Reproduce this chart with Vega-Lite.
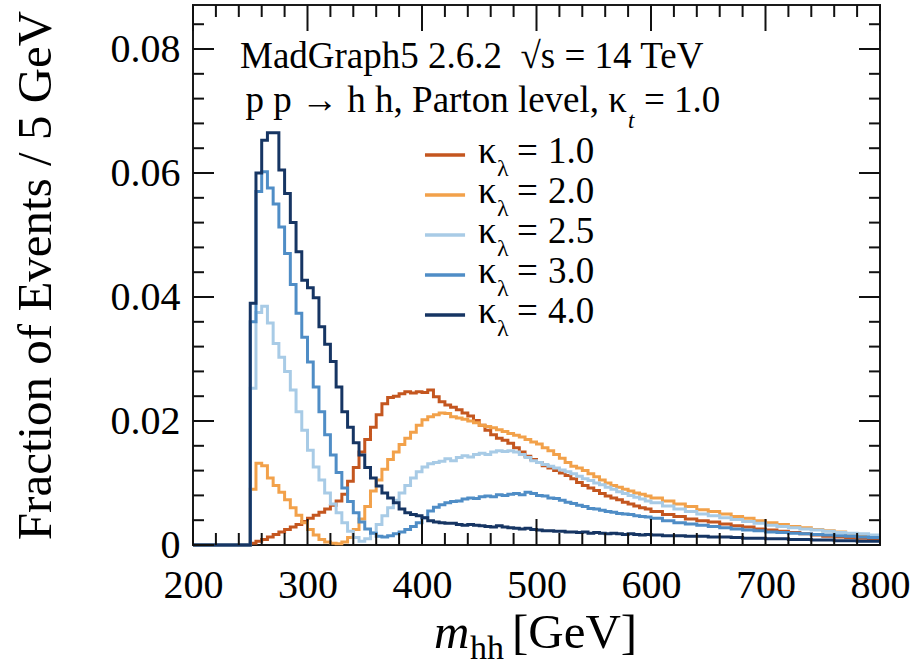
{
"$schema": "https://vega.github.io/schema/vega-lite/v6.json",
"width": 687, "height": 540,
"autosize": {"type": "none"},
"padding": {"left": 193, "top": 5, "right": 31, "bottom": 125},
"background": "white",
"config": {"view": {"stroke": "#1a1a1a", "strokeWidth": 2}, "font": "Liberation Serif"},
"data": {"values": [
{"m":200,"k":"1.0","f":0},{"m":250,"k":"1.0","f":0.0003},{"m":255,"k":"1.0","f":0.0006},{"m":260,"k":"1.0","f":0.0009},{"m":265,"k":"1.0","f":0.0013},{"m":270,"k":"1.0","f":0.0017},{"m":275,"k":"1.0","f":0.0021},{"m":280,"k":"1.0","f":0.0025},{"m":285,"k":"1.0","f":0.0029},{"m":290,"k":"1.0","f":0.0033},{"m":295,"k":"1.0","f":0.0038},{"m":300,"k":"1.0","f":0.0043},{"m":305,"k":"1.0","f":0.0048},{"m":310,"k":"1.0","f":0.0053},{"m":315,"k":"1.0","f":0.0058},{"m":320,"k":"1.0","f":0.0064},{"m":325,"k":"1.0","f":0.0071},{"m":330,"k":"1.0","f":0.0082},{"m":335,"k":"1.0","f":0.0103},{"m":340,"k":"1.0","f":0.0125},{"m":345,"k":"1.0","f":0.0150},{"m":350,"k":"1.0","f":0.0170},{"m":355,"k":"1.0","f":0.0190},{"m":360,"k":"1.0","f":0.0210},{"m":365,"k":"1.0","f":0.0228},{"m":370,"k":"1.0","f":0.0238},{"m":375,"k":"1.0","f":0.0240},{"m":380,"k":"1.0","f":0.0244},{"m":385,"k":"1.0","f":0.0247},{"m":390,"k":"1.0","f":0.0245},{"m":395,"k":"1.0","f":0.0247},{"m":400,"k":"1.0","f":0.0246},{"m":405,"k":"1.0","f":0.0250},{"m":410,"k":"1.0","f":0.0239},{"m":415,"k":"1.0","f":0.0231},{"m":420,"k":"1.0","f":0.0226},{"m":425,"k":"1.0","f":0.0222},{"m":430,"k":"1.0","f":0.0218},{"m":435,"k":"1.0","f":0.0213},{"m":440,"k":"1.0","f":0.0208},{"m":445,"k":"1.0","f":0.0201},{"m":450,"k":"1.0","f":0.0193},{"m":455,"k":"1.0","f":0.0185},{"m":460,"k":"1.0","f":0.0178},{"m":465,"k":"1.0","f":0.0172},{"m":470,"k":"1.0","f":0.0169},{"m":475,"k":"1.0","f":0.0164},{"m":480,"k":"1.0","f":0.0157},{"m":485,"k":"1.0","f":0.0150},{"m":490,"k":"1.0","f":0.0143},{"m":495,"k":"1.0","f":0.0138},{"m":500,"k":"1.0","f":0.0133},{"m":505,"k":"1.0","f":0.0128},{"m":510,"k":"1.0","f":0.0124},{"m":515,"k":"1.0","f":0.0120},{"m":520,"k":"1.0","f":0.0116},{"m":525,"k":"1.0","f":0.0112},{"m":530,"k":"1.0","f":0.0107},{"m":535,"k":"1.0","f":0.0101},{"m":540,"k":"1.0","f":0.0096},{"m":545,"k":"1.0","f":0.0092},{"m":550,"k":"1.0","f":0.0088},{"m":555,"k":"1.0","f":0.0083},{"m":560,"k":"1.0","f":0.0079},{"m":565,"k":"1.0","f":0.0076},{"m":570,"k":"1.0","f":0.0073},{"m":575,"k":"1.0","f":0.0069},{"m":580,"k":"1.0","f":0.0066},{"m":585,"k":"1.0","f":0.0063},{"m":590,"k":"1.0","f":0.0060},{"m":595,"k":"1.0","f":0.0058},{"m":600,"k":"1.0","f":0.0054},{"m":610,"k":"1.0","f":0.0049},{"m":620,"k":"1.0","f":0.0046},{"m":630,"k":"1.0","f":0.0042},{"m":640,"k":"1.0","f":0.0039},{"m":650,"k":"1.0","f":0.0037},{"m":660,"k":"1.0","f":0.0034},{"m":670,"k":"1.0","f":0.0031},{"m":680,"k":"1.0","f":0.0029},{"m":690,"k":"1.0","f":0.0026},{"m":700,"k":"1.0","f":0.0024},{"m":710,"k":"1.0","f":0.0022},{"m":720,"k":"1.0","f":0.0020},{"m":730,"k":"1.0","f":0.0018},{"m":740,"k":"1.0","f":0.0016},{"m":750,"k":"1.0","f":0.0014},{"m":760,"k":"1.0","f":0.0013},{"m":770,"k":"1.0","f":0.0012},{"m":780,"k":"1.0","f":0.0011},{"m":790,"k":"1.0","f":0.0010},{"m":800,"k":"1.0","f":0.0010},
{"m":200,"k":"2.0","f":0},{"m":250,"k":"2.0","f":0.0090},{"m":255,"k":"2.0","f":0.0132},{"m":260,"k":"2.0","f":0.0128},{"m":265,"k":"2.0","f":0.0108},{"m":270,"k":"2.0","f":0.0096},{"m":275,"k":"2.0","f":0.0085},{"m":280,"k":"2.0","f":0.0073},{"m":285,"k":"2.0","f":0.0060},{"m":290,"k":"2.0","f":0.0048},{"m":295,"k":"2.0","f":0.0036},{"m":300,"k":"2.0","f":0.0025},{"m":305,"k":"2.0","f":0.0016},{"m":310,"k":"2.0","f":0.0009},{"m":315,"k":"2.0","f":0.0005},{"m":320,"k":"2.0","f":0.0003},{"m":325,"k":"2.0","f":0.0002},{"m":330,"k":"2.0","f":0.0005},{"m":335,"k":"2.0","f":0.0012},{"m":340,"k":"2.0","f":0.0025},{"m":345,"k":"2.0","f":0.0042},{"m":350,"k":"2.0","f":0.0062},{"m":355,"k":"2.0","f":0.0087},{"m":360,"k":"2.0","f":0.0105},{"m":365,"k":"2.0","f":0.0122},{"m":370,"k":"2.0","f":0.0138},{"m":375,"k":"2.0","f":0.0150},{"m":380,"k":"2.0","f":0.0162},{"m":385,"k":"2.0","f":0.0172},{"m":390,"k":"2.0","f":0.0182},{"m":395,"k":"2.0","f":0.0193},{"m":400,"k":"2.0","f":0.0202},{"m":405,"k":"2.0","f":0.0207},{"m":410,"k":"2.0","f":0.0210},{"m":415,"k":"2.0","f":0.0213},{"m":420,"k":"2.0","f":0.0212},{"m":425,"k":"2.0","f":0.0207},{"m":430,"k":"2.0","f":0.0205},{"m":435,"k":"2.0","f":0.0203},{"m":440,"k":"2.0","f":0.0200},{"m":445,"k":"2.0","f":0.0197},{"m":450,"k":"2.0","f":0.0193},{"m":455,"k":"2.0","f":0.0191},{"m":460,"k":"2.0","f":0.0189},{"m":465,"k":"2.0","f":0.0186},{"m":470,"k":"2.0","f":0.0183},{"m":475,"k":"2.0","f":0.0180},{"m":480,"k":"2.0","f":0.0177},{"m":485,"k":"2.0","f":0.0174},{"m":490,"k":"2.0","f":0.0170},{"m":495,"k":"2.0","f":0.0166},{"m":500,"k":"2.0","f":0.0163},{"m":505,"k":"2.0","f":0.0157},{"m":510,"k":"2.0","f":0.0152},{"m":515,"k":"2.0","f":0.0146},{"m":520,"k":"2.0","f":0.0140},{"m":525,"k":"2.0","f":0.0133},{"m":530,"k":"2.0","f":0.0127},{"m":535,"k":"2.0","f":0.0124},{"m":540,"k":"2.0","f":0.0120},{"m":545,"k":"2.0","f":0.0115},{"m":550,"k":"2.0","f":0.0110},{"m":555,"k":"2.0","f":0.0105},{"m":560,"k":"2.0","f":0.0100},{"m":565,"k":"2.0","f":0.0096},{"m":570,"k":"2.0","f":0.0093},{"m":575,"k":"2.0","f":0.0090},{"m":580,"k":"2.0","f":0.0087},{"m":585,"k":"2.0","f":0.0084},{"m":590,"k":"2.0","f":0.0082},{"m":595,"k":"2.0","f":0.0079},{"m":600,"k":"2.0","f":0.0076},{"m":610,"k":"2.0","f":0.0071},{"m":620,"k":"2.0","f":0.0066},{"m":630,"k":"2.0","f":0.0062},{"m":640,"k":"2.0","f":0.0057},{"m":650,"k":"2.0","f":0.0054},{"m":660,"k":"2.0","f":0.0050},{"m":670,"k":"2.0","f":0.0046},{"m":680,"k":"2.0","f":0.0043},{"m":690,"k":"2.0","f":0.0039},{"m":700,"k":"2.0","f":0.0036},{"m":710,"k":"2.0","f":0.0033},{"m":720,"k":"2.0","f":0.0030},{"m":730,"k":"2.0","f":0.0028},{"m":740,"k":"2.0","f":0.0025},{"m":750,"k":"2.0","f":0.0023},{"m":760,"k":"2.0","f":0.0021},{"m":770,"k":"2.0","f":0.0018},{"m":780,"k":"2.0","f":0.0015},{"m":790,"k":"2.0","f":0.0012},{"m":800,"k":"2.0","f":0.0012},
{"m":200,"k":"2.5","f":0},{"m":250,"k":"2.5","f":0.0253},{"m":255,"k":"2.5","f":0.0375},{"m":260,"k":"2.5","f":0.0385},{"m":265,"k":"2.5","f":0.0358},{"m":270,"k":"2.5","f":0.0325},{"m":275,"k":"2.5","f":0.0303},{"m":280,"k":"2.5","f":0.0280},{"m":285,"k":"2.5","f":0.0250},{"m":290,"k":"2.5","f":0.0215},{"m":295,"k":"2.5","f":0.0185},{"m":300,"k":"2.5","f":0.0153},{"m":305,"k":"2.5","f":0.0126},{"m":310,"k":"2.5","f":0.0105},{"m":315,"k":"2.5","f":0.0084},{"m":320,"k":"2.5","f":0.0066},{"m":325,"k":"2.5","f":0.0052},{"m":330,"k":"2.5","f":0.0036},{"m":335,"k":"2.5","f":0.0022},{"m":340,"k":"2.5","f":0.0012},{"m":345,"k":"2.5","f":0.0006},{"m":350,"k":"2.5","f":0.0010},{"m":355,"k":"2.5","f":0.0020},{"m":360,"k":"2.5","f":0.0033},{"m":365,"k":"2.5","f":0.0047},{"m":370,"k":"2.5","f":0.0060},{"m":375,"k":"2.5","f":0.0072},{"m":380,"k":"2.5","f":0.0084},{"m":385,"k":"2.5","f":0.0096},{"m":390,"k":"2.5","f":0.0108},{"m":395,"k":"2.5","f":0.0118},{"m":400,"k":"2.5","f":0.0126},{"m":405,"k":"2.5","f":0.0131},{"m":410,"k":"2.5","f":0.0133},{"m":415,"k":"2.5","f":0.0135},{"m":420,"k":"2.5","f":0.0139},{"m":425,"k":"2.5","f":0.0136},{"m":430,"k":"2.5","f":0.0141},{"m":435,"k":"2.5","f":0.0144},{"m":440,"k":"2.5","f":0.0142},{"m":445,"k":"2.5","f":0.0146},{"m":450,"k":"2.5","f":0.0148},{"m":455,"k":"2.5","f":0.0146},{"m":460,"k":"2.5","f":0.0150},{"m":465,"k":"2.5","f":0.0152},{"m":470,"k":"2.5","f":0.0151},{"m":475,"k":"2.5","f":0.0152},{"m":480,"k":"2.5","f":0.0150},{"m":485,"k":"2.5","f":0.0146},{"m":490,"k":"2.5","f":0.0141},{"m":495,"k":"2.5","f":0.0136},{"m":500,"k":"2.5","f":0.0133},{"m":505,"k":"2.5","f":0.0130},{"m":510,"k":"2.5","f":0.0127},{"m":515,"k":"2.5","f":0.0124},{"m":520,"k":"2.5","f":0.0121},{"m":525,"k":"2.5","f":0.0118},{"m":530,"k":"2.5","f":0.0115},{"m":535,"k":"2.5","f":0.0111},{"m":540,"k":"2.5","f":0.0107},{"m":545,"k":"2.5","f":0.0104},{"m":550,"k":"2.5","f":0.0100},{"m":555,"k":"2.5","f":0.0097},{"m":560,"k":"2.5","f":0.0093},{"m":565,"k":"2.5","f":0.0090},{"m":570,"k":"2.5","f":0.0086},{"m":575,"k":"2.5","f":0.0083},{"m":580,"k":"2.5","f":0.0080},{"m":585,"k":"2.5","f":0.0077},{"m":590,"k":"2.5","f":0.0074},{"m":595,"k":"2.5","f":0.0071},{"m":600,"k":"2.5","f":0.0068},{"m":610,"k":"2.5","f":0.0063},{"m":620,"k":"2.5","f":0.0058},{"m":630,"k":"2.5","f":0.0054},{"m":640,"k":"2.5","f":0.0050},{"m":650,"k":"2.5","f":0.0047},{"m":660,"k":"2.5","f":0.0044},{"m":670,"k":"2.5","f":0.0041},{"m":680,"k":"2.5","f":0.0038},{"m":690,"k":"2.5","f":0.0035},{"m":700,"k":"2.5","f":0.0032},{"m":710,"k":"2.5","f":0.0030},{"m":720,"k":"2.5","f":0.0028},{"m":730,"k":"2.5","f":0.0026},{"m":740,"k":"2.5","f":0.0024},{"m":750,"k":"2.5","f":0.0022},{"m":760,"k":"2.5","f":0.0020},{"m":770,"k":"2.5","f":0.0019},{"m":780,"k":"2.5","f":0.0018},{"m":790,"k":"2.5","f":0.0016},{"m":800,"k":"2.5","f":0.0016},
{"m":200,"k":"3.0","f":0},{"m":250,"k":"3.0","f":0.0360},{"m":255,"k":"3.0","f":0.0570},{"m":260,"k":"3.0","f":0.0602},{"m":265,"k":"3.0","f":0.0576},{"m":270,"k":"3.0","f":0.0550},{"m":275,"k":"3.0","f":0.0513},{"m":280,"k":"3.0","f":0.0470},{"m":285,"k":"3.0","f":0.0420},{"m":290,"k":"3.0","f":0.0374},{"m":295,"k":"3.0","f":0.0335},{"m":300,"k":"3.0","f":0.0295},{"m":305,"k":"3.0","f":0.0255},{"m":310,"k":"3.0","f":0.0215},{"m":315,"k":"3.0","f":0.0178},{"m":320,"k":"3.0","f":0.0145},{"m":325,"k":"3.0","f":0.0117},{"m":330,"k":"3.0","f":0.0092},{"m":335,"k":"3.0","f":0.0070},{"m":340,"k":"3.0","f":0.0052},{"m":345,"k":"3.0","f":0.0037},{"m":350,"k":"3.0","f":0.0026},{"m":355,"k":"3.0","f":0.0019},{"m":360,"k":"3.0","f":0.0014},{"m":365,"k":"3.0","f":0.0013},{"m":370,"k":"3.0","f":0.0015},{"m":375,"k":"3.0","f":0.0018},{"m":380,"k":"3.0","f":0.0021},{"m":385,"k":"3.0","f":0.0025},{"m":390,"k":"3.0","f":0.0030},{"m":395,"k":"3.0","f":0.0036},{"m":400,"k":"3.0","f":0.0044},{"m":405,"k":"3.0","f":0.0055},{"m":410,"k":"3.0","f":0.0061},{"m":415,"k":"3.0","f":0.0065},{"m":420,"k":"3.0","f":0.0068},{"m":425,"k":"3.0","f":0.0070},{"m":430,"k":"3.0","f":0.0071},{"m":435,"k":"3.0","f":0.0074},{"m":440,"k":"3.0","f":0.0076},{"m":445,"k":"3.0","f":0.0075},{"m":450,"k":"3.0","f":0.0078},{"m":455,"k":"3.0","f":0.0079},{"m":460,"k":"3.0","f":0.0078},{"m":465,"k":"3.0","f":0.0081},{"m":470,"k":"3.0","f":0.0080},{"m":475,"k":"3.0","f":0.0082},{"m":480,"k":"3.0","f":0.0083},{"m":485,"k":"3.0","f":0.0081},{"m":490,"k":"3.0","f":0.0085},{"m":495,"k":"3.0","f":0.0083},{"m":500,"k":"3.0","f":0.0080},{"m":505,"k":"3.0","f":0.0079},{"m":510,"k":"3.0","f":0.0076},{"m":515,"k":"3.0","f":0.0075},{"m":520,"k":"3.0","f":0.0072},{"m":525,"k":"3.0","f":0.0069},{"m":530,"k":"3.0","f":0.0067},{"m":535,"k":"3.0","f":0.0064},{"m":540,"k":"3.0","f":0.0062},{"m":545,"k":"3.0","f":0.0059},{"m":550,"k":"3.0","f":0.0058},{"m":555,"k":"3.0","f":0.0056},{"m":560,"k":"3.0","f":0.0054},{"m":565,"k":"3.0","f":0.0053},{"m":570,"k":"3.0","f":0.0051},{"m":575,"k":"3.0","f":0.0050},{"m":580,"k":"3.0","f":0.0049},{"m":585,"k":"3.0","f":0.0047},{"m":590,"k":"3.0","f":0.0046},{"m":595,"k":"3.0","f":0.0045},{"m":600,"k":"3.0","f":0.0043},{"m":610,"k":"3.0","f":0.0039},{"m":620,"k":"3.0","f":0.0036},{"m":630,"k":"3.0","f":0.0034},{"m":640,"k":"3.0","f":0.0032},{"m":650,"k":"3.0","f":0.0030},{"m":660,"k":"3.0","f":0.0028},{"m":670,"k":"3.0","f":0.0026},{"m":680,"k":"3.0","f":0.0024},{"m":690,"k":"3.0","f":0.0023},{"m":700,"k":"3.0","f":0.0021},{"m":710,"k":"3.0","f":0.0020},{"m":720,"k":"3.0","f":0.0019},{"m":730,"k":"3.0","f":0.0018},{"m":740,"k":"3.0","f":0.0017},{"m":750,"k":"3.0","f":0.0016},{"m":760,"k":"3.0","f":0.0015},{"m":770,"k":"3.0","f":0.0014},{"m":780,"k":"3.0","f":0.0013},{"m":790,"k":"3.0","f":0.0012},{"m":800,"k":"3.0","f":0.0012},
{"m":200,"k":"4.0","f":0},{"m":250,"k":"4.0","f":0.0390},{"m":255,"k":"4.0","f":0.0600},{"m":260,"k":"4.0","f":0.0653},{"m":265,"k":"4.0","f":0.0665},{"m":270,"k":"4.0","f":0.0665},{"m":275,"k":"4.0","f":0.0605},{"m":280,"k":"4.0","f":0.0567},{"m":285,"k":"4.0","f":0.0520},{"m":290,"k":"4.0","f":0.0473},{"m":295,"k":"4.0","f":0.0427},{"m":300,"k":"4.0","f":0.0415},{"m":305,"k":"4.0","f":0.0399},{"m":310,"k":"4.0","f":0.0352},{"m":315,"k":"4.0","f":0.0324},{"m":320,"k":"4.0","f":0.0296},{"m":325,"k":"4.0","f":0.0255},{"m":330,"k":"4.0","f":0.0215},{"m":335,"k":"4.0","f":0.0190},{"m":340,"k":"4.0","f":0.0165},{"m":345,"k":"4.0","f":0.0145},{"m":350,"k":"4.0","f":0.0125},{"m":355,"k":"4.0","f":0.0108},{"m":360,"k":"4.0","f":0.0095},{"m":365,"k":"4.0","f":0.0084},{"m":370,"k":"4.0","f":0.0076},{"m":375,"k":"4.0","f":0.0068},{"m":380,"k":"4.0","f":0.0058},{"m":385,"k":"4.0","f":0.0052},{"m":390,"k":"4.0","f":0.0049},{"m":395,"k":"4.0","f":0.0047},{"m":400,"k":"4.0","f":0.0044},{"m":405,"k":"4.0","f":0.0039},{"m":410,"k":"4.0","f":0.0037},{"m":415,"k":"4.0","f":0.0036},{"m":420,"k":"4.0","f":0.0035},{"m":425,"k":"4.0","f":0.0035},{"m":430,"k":"4.0","f":0.0033},{"m":435,"k":"4.0","f":0.0032},{"m":440,"k":"4.0","f":0.0033},{"m":445,"k":"4.0","f":0.0032},{"m":450,"k":"4.0","f":0.0031},{"m":455,"k":"4.0","f":0.0030},{"m":460,"k":"4.0","f":0.0029},{"m":465,"k":"4.0","f":0.0031},{"m":470,"k":"4.0","f":0.0029},{"m":475,"k":"4.0","f":0.0028},{"m":480,"k":"4.0","f":0.0027},{"m":485,"k":"4.0","f":0.0026},{"m":490,"k":"4.0","f":0.0027},{"m":495,"k":"4.0","f":0.0025},{"m":500,"k":"4.0","f":0.0024},{"m":505,"k":"4.0","f":0.0023},{"m":510,"k":"4.0","f":0.0023},{"m":515,"k":"4.0","f":0.0022},{"m":520,"k":"4.0","f":0.0022},{"m":525,"k":"4.0","f":0.0021},{"m":530,"k":"4.0","f":0.0021},{"m":535,"k":"4.0","f":0.0020},{"m":540,"k":"4.0","f":0.0021},{"m":545,"k":"4.0","f":0.0019},{"m":550,"k":"4.0","f":0.0020},{"m":555,"k":"4.0","f":0.0019},{"m":560,"k":"4.0","f":0.0018},{"m":565,"k":"4.0","f":0.0019},{"m":570,"k":"4.0","f":0.0018},{"m":575,"k":"4.0","f":0.0017},{"m":580,"k":"4.0","f":0.0018},{"m":585,"k":"4.0","f":0.0017},{"m":590,"k":"4.0","f":0.0016},{"m":595,"k":"4.0","f":0.0017},{"m":600,"k":"4.0","f":0.0016},{"m":610,"k":"4.0","f":0.0015},{"m":620,"k":"4.0","f":0.0015},{"m":630,"k":"4.0","f":0.0014},{"m":640,"k":"4.0","f":0.0014},{"m":650,"k":"4.0","f":0.0013},{"m":660,"k":"4.0","f":0.0013},{"m":670,"k":"4.0","f":0.0012},{"m":680,"k":"4.0","f":0.0011},{"m":690,"k":"4.0","f":0.0011},{"m":700,"k":"4.0","f":0.0010},{"m":710,"k":"4.0","f":0.0010},{"m":720,"k":"4.0","f":0.0009},{"m":730,"k":"4.0","f":0.0009},{"m":740,"k":"4.0","f":0.0008},{"m":750,"k":"4.0","f":0.0008},{"m":760,"k":"4.0","f":0.0007},{"m":770,"k":"4.0","f":0.0007},{"m":780,"k":"4.0","f":0.0006},{"m":790,"k":"4.0","f":0.0006},{"m":800,"k":"4.0","f":0.0006}
]},
"resolve": {"scale": {"y": "independent"}, "axis": {"x": "independent", "y": "independent"}},
"layer": [
{"mark": {"type": "line", "interpolate": "step-after", "strokeWidth": 3},
 "encoding": {
  "x": {"field": "m", "type": "quantitative", "scale": {"domain": [200, 800], "nice": false, "zero": false},
   "axis": {"orient": "bottom", "values": [200,300,400,500,600,700,800], "tickSize": 26, "offset": -26, "tickOpacity": 0,
    "domain": false, "grid": false, "title": null,
    "labelFont": "Liberation Serif", "labelFontSize": 40, "labelColor": "black",
    "labelPadding": 20, "labelOverlap": false, "labelFlush": false}},
  "y": {"field": "f", "type": "quantitative", "scale": {"domain": [0, 0.0871], "nice": false, "zero": false},
   "axis": {"orient": "left", "values": [0,0.02,0.04,0.06,0.08], "tickSize": 21, "offset": -21, "tickOpacity": 0,
    "domain": false, "grid": false, "format": ".2~f",
    "labelFont": "Liberation Serif", "labelFontSize": 40, "labelColor": "black",
    "labelPadding": 13, "labelOverlap": false, "labelFlush": false,
    "title": "Fraction of Events / 5 GeV", "titleFont": "Liberation Serif", "titleFontSize": 49, "titleFontWeight": "normal", "titleColor": "black", "titlePadding": 50}},
  "color": {"field": "k", "type": "nominal", "scale": {"domain": ["1.0","2.0","2.5","3.0","4.0"], "range": ["#c4561f","#f2a14a","#a8cbe6","#4f8dc6","#163563"]}, "legend": null}
 }},
{"data": {"values": [{"v":200},{"v":300},{"v":400},{"v":500},{"v":600},{"v":700},{"v":800}]},
 "mark": {"type": "rule", "strokeWidth": 2},
 "encoding": {"x": {"field": "v", "type": "quantitative", "scale": {"domain": [200, 800], "nice": false, "zero": false}, "axis": null},
  "y": {"datum": 0, "type": "quantitative", "scale": {"domain": [0, 0.0871], "nice": false, "zero": false}, "axis": null},
  "y2": {"datum": 0.004194},
  "color": {"value": "#111111"}}},
{"data": {"values": [{"v":200},{"v":300},{"v":400},{"v":500},{"v":600},{"v":700},{"v":800}]},
 "mark": {"type": "rule", "strokeWidth": 2},
 "encoding": {"x": {"field": "v", "type": "quantitative", "scale": {"domain": [200, 800], "nice": false, "zero": false}, "axis": null},
  "y": {"datum": 0.0871, "type": "quantitative", "scale": {"domain": [0, 0.0871], "nice": false, "zero": false}, "axis": null},
  "y2": {"datum": 0.082906},
  "color": {"value": "#111111"}}},
{"data": {"values": [{"v":220},{"v":240},{"v":260},{"v":280},{"v":320},{"v":340},{"v":360},{"v":380},{"v":420},{"v":440},{"v":460},{"v":480},{"v":520},{"v":540},{"v":560},{"v":580},{"v":620},{"v":640},{"v":660},{"v":680},{"v":720},{"v":740},{"v":760},{"v":780}]},
 "mark": {"type": "rule", "strokeWidth": 2},
 "encoding": {"x": {"field": "v", "type": "quantitative", "scale": {"domain": [200, 800], "nice": false, "zero": false}, "axis": null},
  "y": {"datum": 0, "type": "quantitative", "scale": {"domain": [0, 0.0871], "nice": false, "zero": false}, "axis": null},
  "y2": {"datum": 0.001935},
  "color": {"value": "#111111"}}},
{"data": {"values": [{"v":220},{"v":240},{"v":260},{"v":280},{"v":320},{"v":340},{"v":360},{"v":380},{"v":420},{"v":440},{"v":460},{"v":480},{"v":520},{"v":540},{"v":560},{"v":580},{"v":620},{"v":640},{"v":660},{"v":680},{"v":720},{"v":740},{"v":760},{"v":780}]},
 "mark": {"type": "rule", "strokeWidth": 2},
 "encoding": {"x": {"field": "v", "type": "quantitative", "scale": {"domain": [200, 800], "nice": false, "zero": false}, "axis": null},
  "y": {"datum": 0.0871, "type": "quantitative", "scale": {"domain": [0, 0.0871], "nice": false, "zero": false}, "axis": null},
  "y2": {"datum": 0.085165},
  "color": {"value": "#111111"}}},
{"data": {"values": [{"v":0},{"v":0.02},{"v":0.04},{"v":0.06},{"v":0.08}]},
 "mark": {"type": "rule", "strokeWidth": 2},
 "encoding": {"y": {"field": "v", "type": "quantitative", "scale": {"domain": [0, 0.0871], "nice": false, "zero": false}, "axis": null},
  "x": {"datum": 200, "type": "quantitative", "scale": {"domain": [200, 800], "nice": false, "zero": false}, "axis": null},
  "x2": {"datum": 218.34},
  "color": {"value": "#111111"}}},
{"data": {"values": [{"v":0},{"v":0.02},{"v":0.04},{"v":0.06},{"v":0.08}]},
 "mark": {"type": "rule", "strokeWidth": 2},
 "encoding": {"y": {"field": "v", "type": "quantitative", "scale": {"domain": [0, 0.0871], "nice": false, "zero": false}, "axis": null},
  "x": {"datum": 800, "type": "quantitative", "scale": {"domain": [200, 800], "nice": false, "zero": false}, "axis": null},
  "x2": {"datum": 781.66},
  "color": {"value": "#111111"}}},
{"data": {"values": [{"v":0.004},{"v":0.008},{"v":0.012},{"v":0.016},{"v":0.024},{"v":0.028},{"v":0.032},{"v":0.036},{"v":0.044},{"v":0.048},{"v":0.052},{"v":0.056},{"v":0.064},{"v":0.068},{"v":0.072},{"v":0.076},{"v":0.084}]},
 "mark": {"type": "rule", "strokeWidth": 2},
 "encoding": {"y": {"field": "v", "type": "quantitative", "scale": {"domain": [0, 0.0871], "nice": false, "zero": false}, "axis": null},
  "x": {"datum": 200, "type": "quantitative", "scale": {"domain": [200, 800], "nice": false, "zero": false}, "axis": null},
  "x2": {"datum": 209.61},
  "color": {"value": "#111111"}}},
{"data": {"values": [{"v":0.004},{"v":0.008},{"v":0.012},{"v":0.016},{"v":0.024},{"v":0.028},{"v":0.032},{"v":0.036},{"v":0.044},{"v":0.048},{"v":0.052},{"v":0.056},{"v":0.064},{"v":0.068},{"v":0.072},{"v":0.076},{"v":0.084}]},
 "mark": {"type": "rule", "strokeWidth": 2},
 "encoding": {"y": {"field": "v", "type": "quantitative", "scale": {"domain": [0, 0.0871], "nice": false, "zero": false}, "axis": null},
  "x": {"datum": 800, "type": "quantitative", "scale": {"domain": [200, 800], "nice": false, "zero": false}, "axis": null},
  "x2": {"datum": 790.39},
  "color": {"value": "#111111"}}},
{"data": {"values": [{}]},
 "mark": {"type": "text", "text": "MadGraph5 2.6.2\u2002√s = 14 TeV", "font": "Liberation Serif", "fontSize": 37, "align": "left", "baseline": "alphabetic", "color": "black"},
 "encoding": {"x": {"datum": 241.05, "type": "quantitative", "scale": {"domain": [200, 800], "nice": false, "zero": false}, "axis": null},
  "y": {"datum": 0.07694, "type": "quantitative", "scale": {"domain": [0, 0.0871], "nice": false, "zero": false}, "axis": null}}},
{"data": {"values": [{}]},
 "mark": {"type": "text", "text": "p p → h h, Parton level, κ", "font": "Liberation Serif", "fontSize": 37, "align": "right", "baseline": "alphabetic", "color": "black"},
 "encoding": {"x": {"datum": 579.0, "type": "quantitative", "scale": {"domain": [200, 800], "nice": false, "zero": false}, "axis": null},
  "y": {"datum": 0.06989, "type": "quantitative", "scale": {"domain": [0, 0.0871], "nice": false, "zero": false}, "axis": null}}},
{"data": {"values": [{}]},
 "mark": {"type": "text", "text": "t", "font": "Liberation Serif", "fontSize": 23, "fontStyle": "italic", "align": "left", "baseline": "alphabetic", "color": "black", "dx": 1, "dy": 16},
 "encoding": {"x": {"datum": 579.0, "type": "quantitative", "scale": {"domain": [200, 800], "nice": false, "zero": false}, "axis": null},
  "y": {"datum": 0.06989, "type": "quantitative", "scale": {"domain": [0, 0.0871], "nice": false, "zero": false}, "axis": null}}},
{"data": {"values": [{}]},
 "mark": {"type": "text", "text": "= 1.0", "font": "Liberation Serif", "fontSize": 37, "align": "left", "baseline": "alphabetic", "color": "black", "dx": 17},
 "encoding": {"x": {"datum": 579.0, "type": "quantitative", "scale": {"domain": [200, 800], "nice": false, "zero": false}, "axis": null},
  "y": {"datum": 0.06989, "type": "quantitative", "scale": {"domain": [0, 0.0871], "nice": false, "zero": false}, "axis": null}}},
{"data": {"values": [{}]},
 "mark": {"type": "text", "text": "m", "font": "Liberation Serif", "fontSize": 49, "fontStyle": "italic", "align": "left", "baseline": "alphabetic", "color": "black"},
 "encoding": {"x": {"datum": 410.5, "type": "quantitative", "scale": {"domain": [200, 800], "nice": false, "zero": false}, "axis": null},
  "y": {"datum": -0.01661, "type": "quantitative", "scale": {"domain": [0, 0.0871], "nice": false, "zero": false}, "axis": null}}},
{"data": {"values": [{}]},
 "mark": {"type": "text", "text": "hh", "font": "Liberation Serif", "fontSize": 34, "align": "left", "baseline": "alphabetic", "color": "black", "dx": 36, "dy": 11},
 "encoding": {"x": {"datum": 410.5, "type": "quantitative", "scale": {"domain": [200, 800], "nice": false, "zero": false}, "axis": null},
  "y": {"datum": -0.01661, "type": "quantitative", "scale": {"domain": [0, 0.0871], "nice": false, "zero": false}, "axis": null}}},
{"data": {"values": [{}]},
 "mark": {"type": "text", "text": "[GeV]", "font": "Liberation Serif", "fontSize": 49, "align": "left", "baseline": "alphabetic", "color": "black", "dx": 78},
 "encoding": {"x": {"datum": 410.5, "type": "quantitative", "scale": {"domain": [200, 800], "nice": false, "zero": false}, "axis": null},
  "y": {"datum": -0.01661, "type": "quantitative", "scale": {"domain": [0, 0.0871], "nice": false, "zero": false}, "axis": null}}},
{"data": {"values": [{"k":"1.0"},{"k":"2.0"},{"k":"2.5"},{"k":"3.0"},{"k":"4.0"}]},
 "mark": {"type": "rule", "strokeWidth": 3.5},
 "encoding": {"x": {"datum": 402.6, "type": "quantitative", "scale": {"domain": [200, 800], "nice": false, "zero": false}, "axis": null},
  "x2": {"datum": 437.6},
  "y": {"field": "k", "type": "ordinal", "scale": {"type": "point", "domain": ["1.0","2.0","2.5","3.0","4.0"], "range": [150, 310], "padding": 0}, "axis": null},
  "color": {"field": "k", "type": "nominal", "legend": null}}},
{"data": {"values": [{"k":"1.0"},{"k":"2.0"},{"k":"2.5"},{"k":"3.0"},{"k":"4.0"}]},
 "mark": {"type": "text", "text": "κ", "font": "Liberation Serif", "fontSize": 37, "align": "left", "baseline": "alphabetic", "color": "black", "dx": 3},
 "encoding": {"x": {"datum": 446.3, "type": "quantitative", "scale": {"domain": [200, 800], "nice": false, "zero": false}, "axis": null},
  "y": {"field": "k", "type": "ordinal", "scale": {"type": "point", "domain": ["1.0","2.0","2.5","3.0","4.0"], "range": [158, 318], "padding": 0}, "axis": null}}},
{"data": {"values": [{"k":"1.0"},{"k":"2.0"},{"k":"2.5"},{"k":"3.0"},{"k":"4.0"}]},
 "mark": {"type": "text", "text": "λ", "font": "Liberation Serif", "fontSize": 24, "align": "left", "baseline": "alphabetic", "color": "black", "dx": 22, "dy": 13},
 "encoding": {"x": {"datum": 446.3, "type": "quantitative", "scale": {"domain": [200, 800], "nice": false, "zero": false}, "axis": null},
  "y": {"field": "k", "type": "ordinal", "scale": {"type": "point", "domain": ["1.0","2.0","2.5","3.0","4.0"], "range": [158, 318], "padding": 0}, "axis": null}}},
{"data": {"values": [{"k":"1.0"},{"k":"2.0"},{"k":"2.5"},{"k":"3.0"},{"k":"4.0"}]},
 "mark": {"type": "text", "text": "=", "font": "Liberation Serif", "fontSize": 37, "align": "left", "baseline": "alphabetic", "color": "black", "dx": 42},
 "encoding": {"x": {"datum": 446.3, "type": "quantitative", "scale": {"domain": [200, 800], "nice": false, "zero": false}, "axis": null},
  "y": {"field": "k", "type": "ordinal", "scale": {"type": "point", "domain": ["1.0","2.0","2.5","3.0","4.0"], "range": [158, 318], "padding": 0}, "axis": null}}},
{"data": {"values": [{"k":"1.0"},{"k":"2.0"},{"k":"2.5"},{"k":"3.0"},{"k":"4.0"}]},
 "mark": {"type": "text", "font": "Liberation Serif", "fontSize": 37, "align": "left", "baseline": "alphabetic", "color": "black", "dx": 73},
 "encoding": {"text": {"field": "k"},
  "x": {"datum": 446.3, "type": "quantitative", "scale": {"domain": [200, 800], "nice": false, "zero": false}, "axis": null},
  "y": {"field": "k", "type": "ordinal", "scale": {"type": "point", "domain": ["1.0","2.0","2.5","3.0","4.0"], "range": [158, 318], "padding": 0}, "axis": null}}}
]
}
